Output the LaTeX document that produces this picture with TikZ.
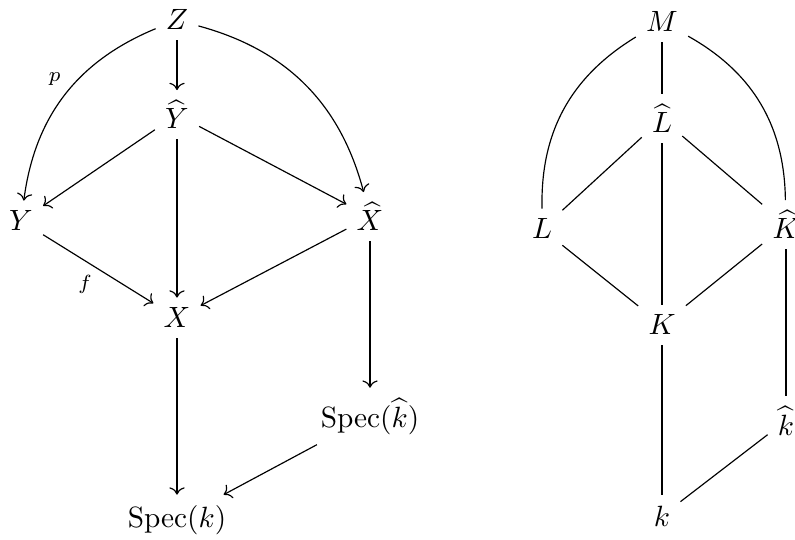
\documentclass[tikz,border=0pt]{standalone}
\usepackage{amsmath,amssymb}
\usetikzlibrary{arrows.meta}
\begin{document}
\begin{tikzpicture}[x=0.341pt,y=-0.341pt,
  obj/.style={anchor=base, inner sep=3.33pt},
  arr/.style={-{Computer Modern Rightarrow}},
  lin/.style={-},
  lab/.style={font=\scriptsize, inner sep=2pt}]
\useasboundingbox (0,0) rectangle (795,540);
% left diagram
\node[obj] (Z)  at (177,30)  {$Z$};
\node[obj] (Yh) at (177,129) {$\widehat{Y}$};
\node[obj] (Y)  at (21,231)  {$Y$};
\node[obj] (Xh) at (370,231) {$\widehat{X}$};
\node[obj] (X)  at (177,328) {$X$};
\node[obj] (Sh) at (370,427) {$\mathrm{Spec}(\widehat{k})$};
\node[obj] (S)  at (177,527) {$\mathrm{Spec}(k)$};
\draw[arr] (Z) -- (Yh);
\draw[arr] (Z) to[bend right=30] node[lab, pos=0.48, above left] {$p$} (Y);
\draw[arr] (Z) to[bend left=30] (Xh);
\draw[arr] (Yh) -- (Y);
\draw[arr] (Yh) -- (Xh);
\draw[arr] (Yh) -- (X);
\draw[arr] (Y) -- node[lab, pos=0.5, below left] {$f$} (X);
\draw[arr] (Xh) -- (X);
\draw[arr] (Xh) -- (Sh);
\draw[arr] (X) -- (S);
\draw[arr] (Sh) -- (S);
% right diagram
\node[obj] (M)  at (662,32)  {$M$};
\node[obj] (Lh) at (662,133) {$\widehat{L}$};
\node[obj] (L)  at (542,239) {$L$};
\node[obj] (Kh) at (786,239) {$\widehat{K}$};
\node[obj] (K)  at (662,335) {$K$};
\node[obj] (kh) at (786,435) {$\widehat{k}$};
\node[obj] (k)  at (662,526) {$k$};
\draw[lin] (M) -- (Lh);
\draw[lin] (M) to[bend right=30] (L);
\draw[lin] (M) to[bend left=30] (Kh);
\draw[lin] (Lh) -- (L);
\draw[lin] (Lh) -- (Kh);
\draw[lin] (Lh) -- (K);
\draw[lin] (L) -- (K);
\draw[lin] (Kh) -- (K);
\draw[lin] (Kh) -- (kh);
\draw[lin] (K) -- (k);
\draw[lin] (kh) -- (k);
\end{tikzpicture}
\end{document}
